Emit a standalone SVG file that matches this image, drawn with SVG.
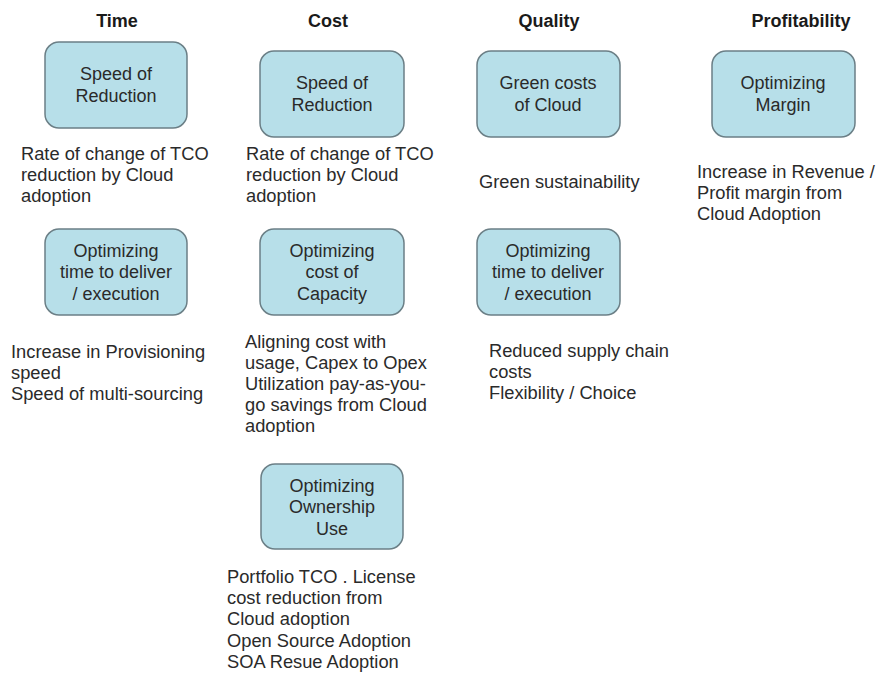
<svg xmlns="http://www.w3.org/2000/svg" width="877" height="675" viewBox="0 0 877 675">
<style>
.bg{fill:#ffffff}
.box{fill:#b7dfe9;stroke:#6b7f86;stroke-width:1.5}
.hd{font-family:"Liberation Sans",Arial,sans-serif;font-weight:bold;font-size:18px;fill:#1a1a1a;text-anchor:middle}
.bt{font-family:"Liberation Sans",Arial,sans-serif;font-size:18px;fill:#2a2a2a;text-anchor:middle}
.tx{font-family:"Liberation Sans",Arial,sans-serif;font-size:18.3px;fill:#2a2a2a}
</style>
<rect class="bg" x="0" y="0" width="877" height="675"/>
<g id="headers">
<text class="hd" x="117" y="27">Time</text>
<text class="hd" x="328" y="27">Cost</text>
<text class="hd" x="549" y="27">Quality</text>
<text class="hd" x="801" y="27">Profitability</text>
</g>
<g id="connectors"></g>
<g id="time-speed">
<rect class="box" x="45" y="42" width="142" height="86" rx="14"/>
<text class="bt" x="116" y="80">Speed of</text>
<text class="bt" x="116" y="102">Reduction</text>
</g>
<g id="cost-speed">
<rect class="box" x="260" y="51" width="144" height="86" rx="14"/>
<text class="bt" x="332" y="89">Speed of</text>
<text class="bt" x="332" y="111">Reduction</text>
</g>
<g id="quality-green">
<rect class="box" x="477" y="51" width="143" height="86" rx="14"/>
<text class="bt" x="548" y="89">Green costs</text>
<text class="bt" x="548" y="111">of Cloud</text>
</g>
<g id="profit-margin">
<rect class="box" x="712" y="51" width="143" height="86" rx="14"/>
<text class="bt" x="783" y="89">Optimizing</text>
<text class="bt" x="783" y="111">Margin</text>
</g>
<g id="time-deliver">
<rect class="box" x="45" y="229" width="142" height="86" rx="14"/>
<text class="bt" x="116" y="257">Optimizing</text>
<text class="bt" x="116" y="278">time to deliver</text>
<text class="bt" x="116" y="300">/ execution</text>
</g>
<g id="cost-capacity">
<rect class="box" x="260" y="229" width="144" height="86" rx="14"/>
<text class="bt" x="332" y="257">Optimizing</text>
<text class="bt" x="332" y="278">cost of</text>
<text class="bt" x="332" y="300">Capacity</text>
</g>
<g id="quality-deliver">
<rect class="box" x="477" y="229" width="143" height="86" rx="14"/>
<text class="bt" x="548" y="257">Optimizing</text>
<text class="bt" x="548" y="278">time to deliver</text>
<text class="bt" x="548" y="300">/ execution</text>
</g>
<g id="cost-ownership">
<rect class="box" x="261" y="464" width="142" height="85" rx="14"/>
<text class="bt" x="332" y="492">Optimizing</text>
<text class="bt" x="332" y="513">Ownership</text>
<text class="bt" x="332" y="535">Use</text>
</g>
<g id="descriptions">
<text class="tx" x="21" y="160">Rate of change of TCO</text>
<text class="tx" x="21" y="181">reduction by Cloud</text>
<text class="tx" x="21" y="202">adoption</text>
<text class="tx" x="246" y="160">Rate of change of TCO</text>
<text class="tx" x="246" y="181">reduction by Cloud</text>
<text class="tx" x="246" y="202">adoption</text>
<text class="tx" x="479" y="188">Green sustainability</text>
<text class="tx" x="697" y="178">Increase in Revenue /</text>
<text class="tx" x="697" y="199">Profit margin from</text>
<text class="tx" x="697" y="220">Cloud Adoption</text>
<text class="tx" x="11" y="358">Increase in Provisioning</text>
<text class="tx" x="11" y="379">speed</text>
<text class="tx" x="11" y="400">Speed of multi-sourcing</text>
<text class="tx" x="245" y="348">Aligning cost with</text>
<text class="tx" x="245" y="369">usage, Capex to Opex</text>
<text class="tx" x="245" y="390">Utilization pay-as-you-</text>
<text class="tx" x="245" y="411">go savings from Cloud</text>
<text class="tx" x="245" y="432">adoption</text>
<text class="tx" x="489" y="357">Reduced supply chain</text>
<text class="tx" x="489" y="378">costs</text>
<text class="tx" x="489" y="399">Flexibility / Choice</text>
<text class="tx" x="227" y="583">Portfolio TCO . License</text>
<text class="tx" x="227" y="604">cost reduction from</text>
<text class="tx" x="227" y="625">Cloud adoption</text>
<text class="tx" x="227" y="647">Open Source Adoption</text>
<text class="tx" x="227" y="668">SOA Resue Adoption</text>
</g>
</svg>
